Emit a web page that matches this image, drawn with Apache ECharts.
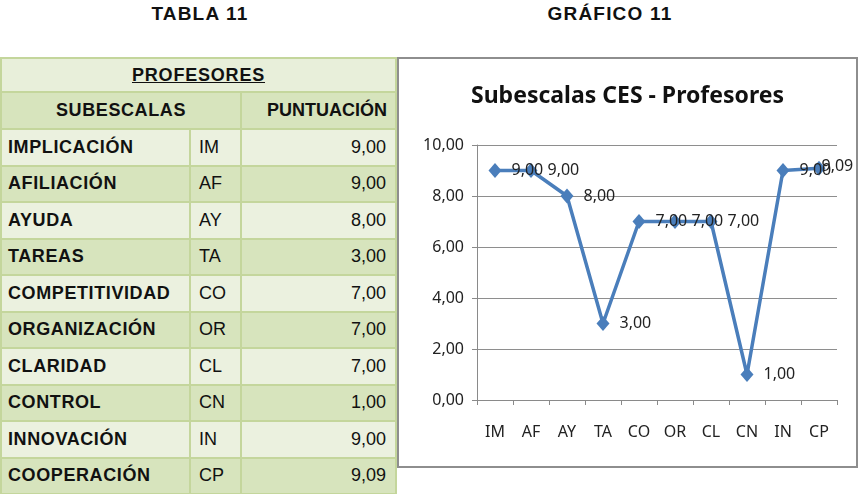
<!DOCTYPE html>
<html>
<head>
<meta charset="utf-8">
<script src="https://cdn.jsdelivr.net/npm/echarts@6/dist/echarts.min.js"></script>
<style>
  html, body { margin:0; padding:0; background:#fff; }
  #page { position:relative; width:864px; height:494px; overflow:hidden; background:#fff; font-family:"Liberation Sans", Arial, sans-serif; }
  .head { position:absolute; top:3px; font-weight:bold; font-size:19px; letter-spacing:1.2px; color:#111; text-align:center; }
  #tbl { position:absolute; left:0; top:57px; border-collapse:collapse; table-layout:fixed; width:395px; }
  #tbl td { border:2px solid #c4d69c; padding:0 8px; font-size:18px; color:#111; white-space:nowrap; overflow:hidden; }
  #tbl tr.data td { height:34.5px; }
  .light { background:#ebf1df; }
  .dark { background:#d7e4bd; }
  #box { position:absolute; left:397px; top:57px; width:461px; height:411px; border:2px solid #8e8e8e; box-sizing:border-box; background:#fff; }
  #chart { width:457px; height:407px; }
</style>
</head>
<body>
<div id="page">
  <div class="head" style="left:100px;width:200px;">TABLA 11</div>
  <div class="head" style="left:510px;width:200px;">GRÁFICO 11</div>
  <table id="tbl"></table>
  <div id="box"><div id="chart"></div></div>
</div>
<script>
var tableTitle = "PROFESORES";
var headers = ["SUBESCALAS", "PUNTUACIÓN"];
var subscaleNames = ["IMPLICACIÓN", "AFILIACIÓN", "AYUDA", "TAREAS", "COMPETITIVIDAD", "ORGANIZACIÓN", "CLARIDAD", "CONTROL", "INNOVACIÓN", "COOPERACIÓN"];
var categories = ["IM", "AF", "AY", "TA", "CO", "OR", "CL", "CN", "IN", "CP"];
var scores = [9.00, 9.00, 8.00, 3.00, 7.00, 7.00, 7.00, 1.00, 9.00, 9.09];
var chartTitle = "Subescalas CES - Profesores";
var yTicks = [0, 2, 4, 6, 8, 10];

function fmt(v) { return v.toFixed(2).replace('.', ','); }

// Build table
var t = document.getElementById('tbl');
var html = '<colgroup><col style="width:189px"><col style="width:51px"><col style="width:155px"></colgroup>';
html += '<tr><td colspan="3" style="height:32px;background:#e8efda;text-align:center;font-weight:bold;text-decoration:underline;letter-spacing:0.8px;">' + tableTitle + '</td></tr>';
html += '<tr><td colspan="2" class="dark" style="height:35px;text-align:center;font-weight:bold;letter-spacing:0.6px;">' + headers[0] + '</td>' +
        '<td class="dark" style="text-align:right;font-weight:bold;">' + headers[1] + '</td></tr>';
for (var i = 0; i < subscaleNames.length; i++) {
  var cls = (i % 2 === 0) ? 'light' : 'dark';
  html += '<tr class="data ' + cls + '"><td style="font-weight:bold;letter-spacing:0.6px;padding-left:6px;">' + subscaleNames[i] + '</td>' +
          '<td style="padding-left:8px;">' + categories[i] + '</td>' +
          '<td style="text-align:right;padding-right:9px;">' + fmt(scores[i]) + '</td></tr>';
}
t.innerHTML = html;

var chart = echarts.init(document.getElementById('chart'));
var ff = "'Noto Sans', 'Open Sans', sans-serif";
var seriesData = scores.map(function (v, i) {
  if (i === scores.length - 1) {
    return { value: v, label: { offset: [-14, -2] } };
  }
  return v;
});
chart.setOption({
  animation: false,
  backgroundColor: '#fff',
  title: {
    text: chartTitle, left: 'center', top: 21,
    textStyle: { fontFamily: ff, fontSize: 23, fontWeight: 'bold', color: '#111' }
  },
  grid: { left: 78, right: 19, top: 86, bottom: 66 },
  xAxis: {
    type: 'category', data: categories, boundaryGap: true,
    axisLine: { lineStyle: { color: '#8a8a8a', width: 1 } },
    axisTick: { show: true, length: 5, inside: false, lineStyle: { color: '#8a8a8a' } },
    axisLabel: { fontFamily: ff, fontSize: 16, color: '#222', margin: 24 }
  },
  yAxis: {
    type: 'value', min: yTicks[0], max: yTicks[yTicks.length - 1], interval: 2,
    axisLine: { show: true, lineStyle: { color: '#8a8a8a', width: 1 } },
    axisTick: { show: true, length: 5, lineStyle: { color: '#8a8a8a' } },
    splitLine: { lineStyle: { color: '#8e8e8e', width: 1 } },
    axisLabel: { fontFamily: ff, fontSize: 16, color: '#222', margin: 13, formatter: function (v) { return fmt(v); } }
  },
  series: [{
    type: 'line', data: seriesData,
    symbol: 'diamond', symbolSize: [13, 15],
    lineStyle: { color: '#4a7ebb', width: 3.5 },
    itemStyle: { color: '#4a7ebb' },
    label: {
      show: true, position: 'right', distance: 10,
      fontFamily: ff, fontSize: 16, color: '#222',
      formatter: function (p) { return fmt(p.value); }
    }
  }]
});
</script>
</body>
</html>
